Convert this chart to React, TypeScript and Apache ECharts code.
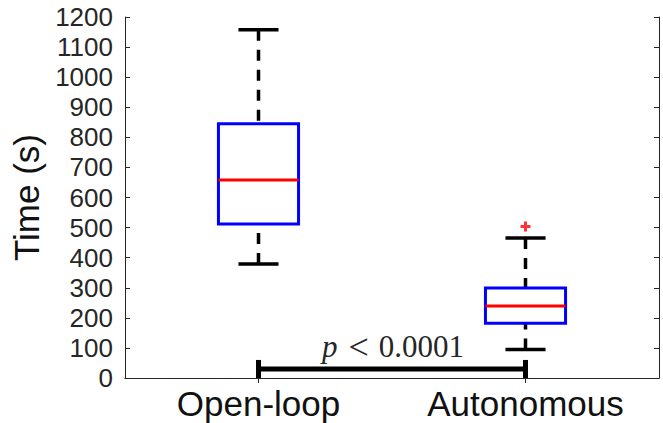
import React, { useEffect, useRef } from "react";
import * as echarts from "echarts";

const categories = ["Open-loop", "Autonomous"];
const whiskerLow = [379, 95];
const q1 = [512, 182];
const median = [658, 239];
const q3 = [845, 299];
const whiskerHigh = [1158, 465];
const outliers: [number, number][] = [[1, 504]];
const yTicks = { min: 0, max: 1200, interval: 100 };
// significance bracket: from category, to category, bar level, end tick top
const sigBracket = [[0, 1, 30, 60]];
const sigLabel = { variable: "p", relation: "<", value: "0.0001" };

export default function App() {
  const ref = useRef<HTMLDivElement>(null);
  useEffect(() => {
    if (!ref.current) return;
    const chart = echarts.init(ref.current, null, { renderer: "svg" });
    const axisColor = "#262626";
    const boxData = categories.map((_, i) => [i, whiskerLow[i], q1[i], median[i], q3[i], whiskerHigh[i]]);
    const option: any = {
      animation: false,
      backgroundColor: "#ffffff",
      grid: { left: 125, right: 4, top: 17, bottom: 45 },
      xAxis: [
        {
          type: "category",
          data: categories,
          position: "bottom",
          axisLine: { show: true, lineStyle: { color: axisColor, width: 1 } },
          axisTick: { show: true, inside: true, alignWithLabel: true, length: 5, lineStyle: { color: axisColor } },
          axisLabel: { fontSize: 35, fontFamily: "Liberation Sans, Arial, sans-serif", color: "#111", margin: 8 },
          splitLine: { show: false },
        },
        {
          type: "category",
          data: categories,
          position: "top",
          axisLine: { show: true, lineStyle: { color: axisColor, width: 1 } },
          axisTick: { show: true, inside: true, alignWithLabel: true, length: 5, lineStyle: { color: axisColor } },
          axisLabel: { show: false },
          splitLine: { show: false },
        },
      ],
      yAxis: [
        {
          type: "value",
          min: yTicks.min,
          max: yTicks.max,
          interval: yTicks.interval,
          position: "left",
          name: "Time (s)",
          nameLocation: "middle",
          nameGap: 76,
          nameTextStyle: { fontSize: 35, fontFamily: "Liberation Sans, Arial, sans-serif", color: "#111" },
          axisLine: { show: true, lineStyle: { color: axisColor, width: 1 } },
          axisTick: { show: true, inside: true, length: 5, lineStyle: { color: axisColor } },
          axisLabel: {
            fontSize: 26,
            fontFamily: "Liberation Sans, Arial, sans-serif",
            color: axisColor,
            margin: 12,
            formatter: (v: number) => String(v),
          },
          splitLine: { show: false },
        },
        {
          type: "value",
          min: yTicks.min,
          max: yTicks.max,
          interval: yTicks.interval,
          position: "right",
          axisLine: { show: true, lineStyle: { color: axisColor, width: 1 } },
          axisTick: { show: true, inside: true, length: 5, lineStyle: { color: axisColor } },
          axisLabel: { show: false },
          splitLine: { show: false },
        },
      ],
      series: [
        {
          type: "custom",
          name: "box",
          xAxisIndex: 0,
          yAxisIndex: 0,
          data: boxData,
          encode: { x: 0, y: [1, 2, 3, 4, 5] },
          renderItem: (params: any, api: any) => {
            const x = api.value(0);
            const lo = api.coord([x, api.value(1)]);
            const b1 = api.coord([x, api.value(2)]);
            const md = api.coord([x, api.value(3)]);
            const b3 = api.coord([x, api.value(4)]);
            const hi = api.coord([x, api.value(5)]);
            const band = api.size([1, 0])[0];
            const bw = band * 0.3;
            const cw = bw / 2;
            const cx = lo[0];
            const dashStyle = { stroke: "#000", lineWidth: 3.5, lineDash: [11, 9], fill: "none" };
            const capStyle = { stroke: "#000", lineWidth: 3.5, fill: "none" };
            return {
              type: "group",
              children: [
                { type: "line", shape: { x1: cx, y1: hi[1], x2: cx, y2: b3[1] }, style: dashStyle },
                { type: "line", shape: { x1: cx, y1: lo[1], x2: cx, y2: b1[1] }, style: dashStyle },
                { type: "line", shape: { x1: cx - cw / 2, y1: hi[1], x2: cx + cw / 2, y2: hi[1] }, style: capStyle },
                { type: "line", shape: { x1: cx - cw / 2, y1: lo[1], x2: cx + cw / 2, y2: lo[1] }, style: capStyle },
                {
                  type: "rect",
                  shape: { x: cx - bw / 2, y: b3[1], width: bw, height: b1[1] - b3[1] },
                  style: { fill: "none", stroke: "#0000ff", lineWidth: 3 },
                },
                {
                  type: "line",
                  shape: { x1: cx - bw / 2, y1: md[1], x2: cx + bw / 2, y2: md[1] },
                  style: { stroke: "#ff0000", lineWidth: 3 },
                },
              ],
            };
          },
        },
        {
          type: "scatter",
          name: "outliers",
          data: outliers,
          symbol: "path://M3.5,0H6.5V3.5H10V6.5H6.5V10H3.5V6.5H0V3.5H3.5Z",
          symbolSize: 10,
          itemStyle: { color: "#ff0000" },
        },
        {
          type: "custom",
          name: "significance",
          data: sigBracket,
          encode: { x: [0, 1], y: [2, 3] },
          renderItem: (params: any, api: any) => {
            const a = api.value(0);
            const b = api.value(1);
            const level = api.value(2);
            const top = api.value(3);
            const pa = api.coord([a, level]);
            const pb = api.coord([b, level]);
            const ta = api.coord([a, top]);
            const ba = api.coord([a, 0]);
            const st = { stroke: "#000", lineWidth: 5 };
            const serif = "Liberation Serif, Times New Roman, serif";
            return {
              type: "group",
              children: [
                { type: "line", shape: { x1: pa[0], y1: pa[1], x2: pb[0], y2: pb[1] }, style: st },
                { type: "line", shape: { x1: pa[0], y1: ta[1], x2: pa[0], y2: ba[1] }, style: st },
                { type: "line", shape: { x1: pb[0], y1: ta[1], x2: pb[0], y2: ba[1] }, style: st },
                {
                  type: "text",
                  x: (pa[0] + pb[0]) / 2 + 1,
                  y: pa[1] - 22,
                  style: {
                    text: `{v|${sigLabel.variable}}{r|${sigLabel.relation}}{n|${sigLabel.value}}`,
                    align: "center",
                    verticalAlign: "middle",
                    fill: "#262626",
                    rich: {
                      v: { fontFamily: serif, fontStyle: "italic", fontSize: 31, fill: "#262626" },
                      r: { fontFamily: serif, fontSize: 36, fill: "#262626", padding: [0, 10, 0, 11] },
                      n: { fontFamily: serif, fontSize: 31, fill: "#262626" },
                    },
                  },
                },
              ],
            };
          },
        },
      ],
    };
    chart.setOption(option);
    return () => chart.dispose();
  }, []);
  return (
    <div
      ref={ref}
      style={{ position: "fixed", left: 0, top: 0, width: 663, height: 423, background: "#fff" }}
    />
  );
}
